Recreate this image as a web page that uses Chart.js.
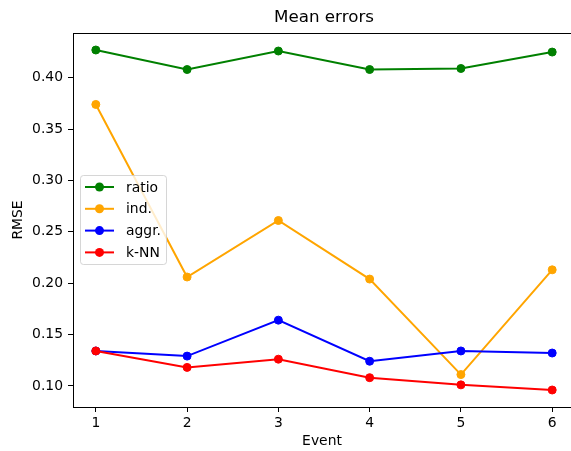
<!DOCTYPE html>
<html>
<head>
<meta charset="utf-8">
<script src="https://cdn.jsdelivr.net/npm/chart.js@4/dist/chart.umd.min.js"></script>
<style>
  html, body { margin: 0; padding: 0; background: #fff; overflow: hidden; }
</style>
</head>
<body>
<canvas id="c" width="571" height="451"></canvas>
<script>
// Mean RMSE per event for each estimation method
const events = [1, 2, 3, 4, 5, 6];
const ratio = [0.427, 0.408, 0.426, 0.408, 0.409, 0.425];
const ind = [0.374, 0.206, 0.261, 0.204, 0.111, 0.213];
const aggr = [0.134, 0.129, 0.164, 0.124, 0.134, 0.132];
const knn = [0.134, 0.118, 0.126, 0.108, 0.101, 0.096];
const yTicks = [0.10, 0.15, 0.20, 0.25, 0.30, 0.35, 0.40];
const seriesNames = ['ratio', 'ind.', 'aggr.', 'k-NN'];
const seriesColors = ['#008000', '#FFA500', '#0000FF', '#FF0000'];

const FONT = 'DejaVu Sans';
const allSeries = [ratio, ind, aggr, knn];

// axis limits with a 5% margin around the data; the right edge of the
// plot is cut off by the canvas, so the visible x range stops a bit short
const allVals = allSeries.flat();
const yLo = Math.min(...allVals), yHi = Math.max(...allVals);
const yPad = (yHi - yLo) * 0.05;
const xPad = (events[events.length - 1] - events[0]) * 0.05;
const xMin = events[0] - xPad;
const xMaxVisible = 6.206;

const datasets = allSeries.map((vals, i) => ({
  label: seriesNames[i],
  data: vals.map((v, j) => ({ x: events[j], y: v })),
  borderColor: seriesColors[i],
  backgroundColor: seriesColors[i],
  pointBackgroundColor: seriesColors[i],
  pointBorderColor: seriesColors[i],
  borderWidth: 2,
  pointRadius: 4,
  pointBorderWidth: 1,
  tension: 0,
  order: allSeries.length - 1 - i
}));

// title, top frame line and in-plot legend
const decorations = {
  id: 'decorations',
  afterDraw(chart) {
    const { ctx, chartArea: a } = chart;
    ctx.save();
    // top spine
    ctx.strokeStyle = '#000';
    ctx.lineWidth = 1;
    ctx.beginPath();
    ctx.moveTo(a.left, a.top + 0.5);
    ctx.lineTo(chart.width, a.top + 0.5);
    ctx.stroke();

    // title, centred over the full (uncut) plot width
    ctx.fillStyle = '#000';
    ctx.font = '16.7px "' + FONT + '"';
    ctx.textAlign = 'center';
    ctx.textBaseline = 'middle';
    ctx.fillText('Mean errors', 324, 18);

    // legend
    const bx = 80.5, by = 175.5, bw = 86, bh = 89, r = 3;
    ctx.beginPath();
    ctx.moveTo(bx + r, by);
    ctx.arcTo(bx + bw, by, bx + bw, by + bh, r);
    ctx.arcTo(bx + bw, by + bh, bx, by + bh, r);
    ctx.arcTo(bx, by + bh, bx, by, r);
    ctx.arcTo(bx, by, bx + bw, by, r);
    ctx.closePath();
    ctx.fillStyle = 'rgba(255,255,255,0.8)';
    ctx.fill();
    ctx.strokeStyle = 'rgba(204,204,204,0.8)';
    ctx.lineWidth = 1;
    ctx.stroke();

    ctx.font = '13.9px "' + FONT + '"';
    ctx.textAlign = 'left';
    seriesNames.forEach((name, i) => {
      const y = 187 + i * 21.8;
      ctx.strokeStyle = seriesColors[i];
      ctx.lineWidth = 2;
      ctx.beginPath();
      ctx.moveTo(85, y);
      ctx.lineTo(114, y);
      ctx.stroke();
      ctx.fillStyle = seriesColors[i];
      ctx.beginPath();
      ctx.arc(99.5, y, 4.5, 0, Math.PI * 2);
      ctx.fill();
      ctx.fillStyle = '#000';
      ctx.fillText(name, 126, y + 1);
    });
    ctx.restore();
  }
};

new Chart(document.getElementById('c'), {
  type: 'line',
  data: { datasets },
  options: {
    responsive: false,
    animation: false,
    layout: { autoPadding: false, padding: { left: 0, top: 33, right: 0, bottom: 0 } },
    plugins: { legend: { display: false }, tooltip: { enabled: false }, title: { display: false } },
    scales: {
      x: {
        type: 'linear',
        min: xMin,
        max: xMaxVisible,
        afterBuildTicks: s => { s.ticks = events.map(v => ({ value: v })); },
        afterFit: s => { s.height = 44; s.paddingLeft = 0; s.paddingRight = 0; },
        grid: { drawOnChartArea: false, drawTicks: true, tickLength: 5, tickColor: '#000', tickWidth: 1 },
        border: { display: true, color: '#000', width: 1 },
        ticks: { color: '#000', font: { family: FONT, size: 13.9 }, padding: 3, maxRotation: 0,
                 callback: v => String(v) },
        title: { display: true, text: 'Event', color: '#000', font: { family: FONT, size: 13.9 },
                 padding: { top: 0, bottom: 1 }, align: 'center' }
      },
      y: {
        type: 'linear',
        min: yLo - yPad,
        max: yHi + yPad,
        afterBuildTicks: s => { s.ticks = yTicks.map(v => ({ value: v })); },
        afterFit: s => { s.width = 73; s.paddingTop = 0; s.paddingBottom = 0; },
        grid: { drawOnChartArea: false, drawTicks: true, tickLength: 5, tickColor: '#000', tickWidth: 1 },
        border: { display: true, color: '#000', width: 1 },
        ticks: { color: '#000', font: { family: FONT, size: 13.9 }, padding: 5,
                 callback: v => Number(v).toFixed(2) },
        title: { display: true, text: 'RMSE', color: '#000', font: { family: FONT, size: 13.9 },
                 padding: { top: 10, bottom: 0 } }
      }
    }
  },
  plugins: [decorations]
});
</script>
</body>
</html>
